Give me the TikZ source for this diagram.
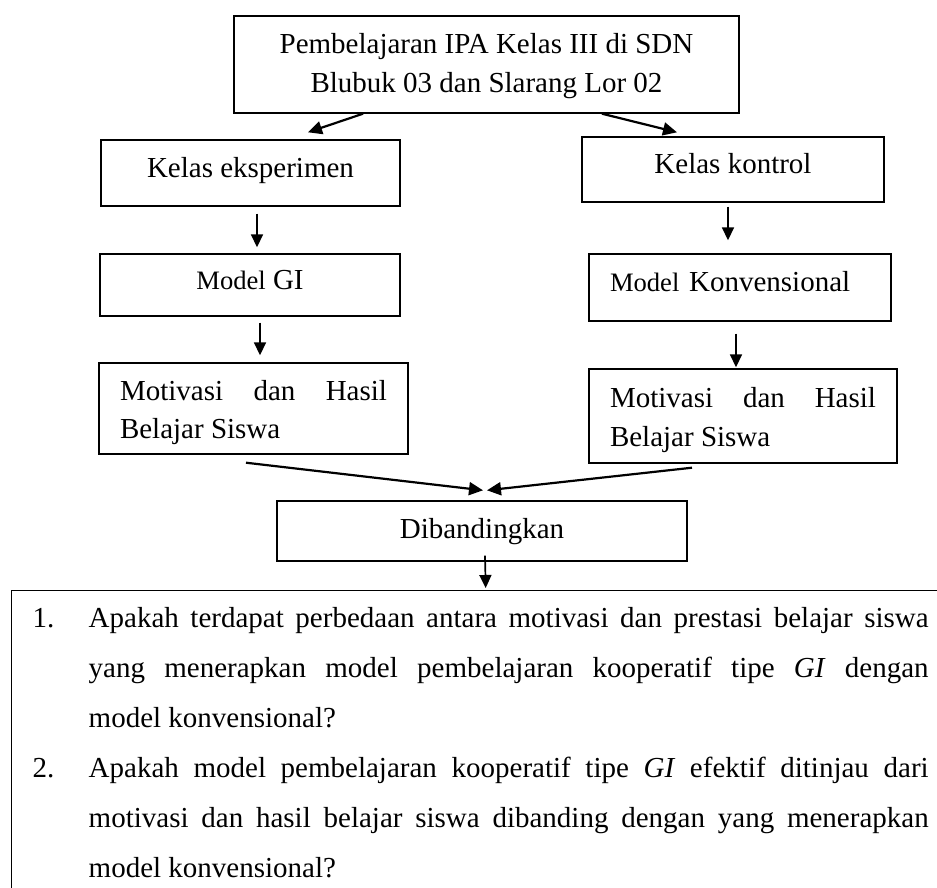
\documentclass[tikz,border=0pt]{standalone}
\usepackage{fontspec}
\setmainfont{Liberation Serif}
\newfontfamily\modelface{Liberation Serif}[Scale=0.917]
\usetikzlibrary{arrows.meta}
\newcommand{\boxfont}{\fontsize{29pt}{38.5pt}\selectfont}
\newcommand{\listfont}{\fontsize{29pt}{50pt}\selectfont}
\tikzset{bt/.style = {draw, line width=1.4pt, inner sep=0pt, font=\boxfont},
         bx/.style = {bt, text height=20pt, text depth=12pt},
         th/.style = {line width=1.7pt},
         tk/.style = {line width=2.2pt, -{Triangle[length=14pt,width=13pt]}}}

\begin{document}
\begin{tikzpicture}[x=1pt, y=-1pt, >={Triangle[length=13pt,width=12pt]}]
    \useasboundingbox (0,0) rectangle (937,887);
    \clip (0,0) rectangle (937,887);
    \node[bt, minimum width=505pt, minimum height=97pt, align=center] (ipa) at (486.5,64.5)
        {\rule{0pt}{23pt}Pembelajaran IPA Kelas III di SDN\\Blubuk 03 dan Slarang Lor 02};
    \node[bx, minimum width=299pt, minimum height=66pt] (eks) at (250.5,173) {Kelas eksperimen};
    \node[bx, minimum width=302pt, minimum height=65pt] (kon) at (733,169.5) {Kelas kontrol};
    \node[bx, minimum width=300pt, minimum height=62pt] (gi) at (250,285) {{\modelface Model} GI};
    \node[bx, minimum width=302pt, minimum height=67pt, text width=260pt, align=left] (kv) at (740,287.5)
        {{\modelface Model} Konvensional};
    \node[bt, minimum width=309pt, minimum height=91pt, text width=267pt, align=justify] (hsa) at (253.5,408.5)
        {\rule{0pt}{28pt}Motivasi dan Hasil\linebreak Belajar Siswa};
    \node[bt, minimum width=308pt, minimum height=94pt, text width=266pt, align=justify] (hsb) at (743,416)
        {\rule{0pt}{28pt}Motivasi dan Hasil\linebreak Belajar Siswa};
    \node[bx, text depth=6pt, minimum width=410pt, minimum height=60pt] (bd) at (482,531) {Dibandingkan};
    \node[draw, line width=1.4pt, anchor=north west, inner xsep=21pt, inner ysep=17pt, font=\listfont] (rm) at (11,590)
        {\parbox[t]{896pt}{\leftskip=56pt\noindent
         \llap{\makebox[56pt][l]{1.}}Apakah terdapat perbedaan antara motivasi dan prestasi belajar siswa\linebreak
         yang menerapkan model pembelajaran kooperatif tipe \textit{GI} dengan\linebreak
         model konvensional?\hfil\break
         \llap{\makebox[56pt][l]{2.}}Apakah model pembelajaran kooperatif tipe \textit{GI} efektif ditinjau dari\linebreak
         motivasi dan hasil belajar siswa dibanding dengan yang menerapkan\linebreak
         model konvensional?}};
    \draw[tk] ([xshift=-123.5pt]ipa.south) -- ([xshift=57.5pt, yshift=7pt]eks.north);
    \draw[tk] ([xshift=115.5pt]ipa.south) -- ([xshift=-56pt, yshift=4pt]kon.north);
    \draw[->, th] ([xshift=6.5pt, yshift=-7pt]eks.south) -- ([xshift=7pt, yshift=6pt]gi.north);
    \draw[->, th] ([xshift=10pt, yshift=-6pt]gi.south) -- ([xshift=6.5pt, yshift=7pt]hsa.north);
    \draw[->, th] ([xshift=-5pt, yshift=-4pt]kon.south) -- ([xshift=-12pt, yshift=13pt]kv.north);
    \draw[->, th] ([xshift=-4pt, yshift=-12pt]kv.south) -- ([xshift=-7pt, yshift=1pt]hsb.north);
    \draw[tk] ([xshift=-7.5pt, yshift=-8pt]hsa.south) -- ([xshift=1pt, yshift=10pt]bd.north);
    \draw[tk] ([xshift=-51pt, yshift=-4pt]hsb.south) -- ([xshift=5pt, yshift=10pt]bd.north);
    \draw[->, th] ([xshift=3pt, yshift=6pt]bd.south) -- ([xshift=5pt, yshift=2pt]rm.north);
\end{tikzpicture}
\end{document}
